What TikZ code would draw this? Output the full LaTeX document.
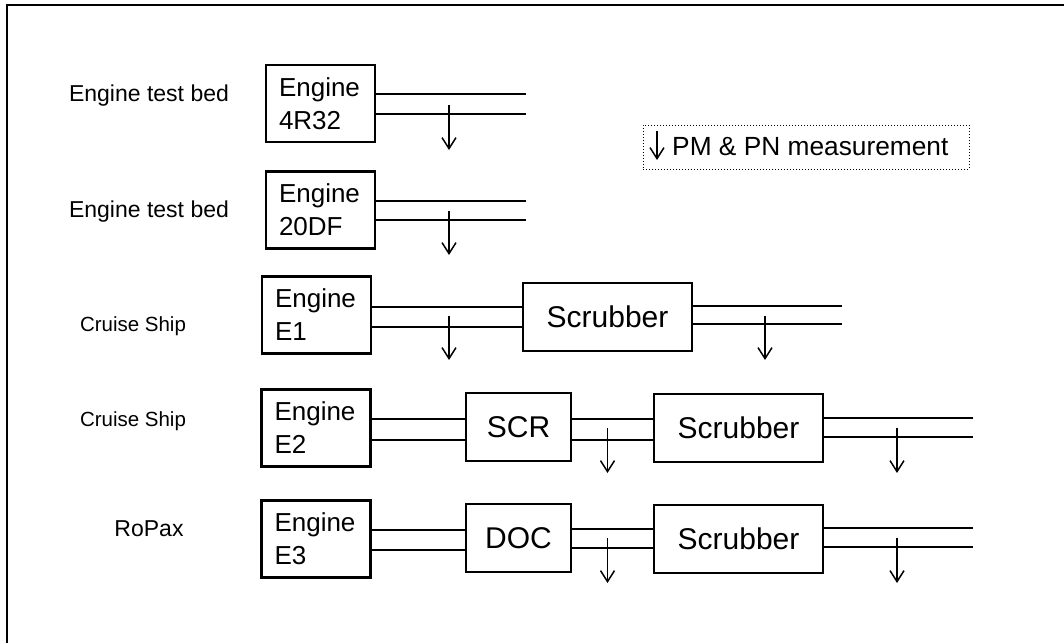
\documentclass[tikz,border=0pt]{standalone}
\usepackage{fontspec}
\setmainfont{Liberation Sans}
\usetikzlibrary{arrows.meta}
\tikzset{
  blk/.style={draw, line width=2.5pt, inner sep=0pt, minimum height=68pt, font=\fontsize{30}{36}\selectfont},
  eng/.style={draw, line width=2.5pt, inner xsep=13pt, inner ysep=0pt, text width=83pt, align=left,
              minimum height=77pt, font=\fontsize{26}{33}\selectfont},
  lbl/.style={font=\fontsize{23}{28}\selectfont, inner sep=0pt},
  slbl/.style={font=\fontsize{20.5}{25}\selectfont, inner sep=0pt},
  pipe/.style={line width=2.5pt},
  meas/.style={line width=1.5pt, -{Straight Barb[length=11pt,width=14pt,line width=1.5pt]}},
  frame/.style={line width=1.5pt}
}
\begin{document}
\begin{tikzpicture}[x=1pt,y=-1pt]
\useasboundingbox (0,0) rectangle (1064,643);
% outer frame
\coordinate (ftl) at (7,5);
\coordinate (ftr) at (1064,5);
\coordinate (fbl) at (7,643);
\draw[frame] (fbl) -- (ftl) -- (ftr);

% labels
\node[lbl] (l1) at (149,96) {Engine test bed};
\node[lbl] (l2) at (149,212) {Engine test bed};
\node[slbl] (l3) at (133,326) {Cruise Ship};
\node[slbl] (l4) at (133,421) {Cruise Ship};
\node[lbl] (l5) at (149,529) {RoPax};

% row 1
\node[eng] (e1) at (320.5,103.5) {Engine\\4R32};
\coordinate (u1) at (526,94);
\coordinate (d1) at (526,114);
\draw[pipe] (e1.east |- u1) -- (u1);
\draw[pipe] (e1.east |- d1) -- (d1);
\coordinate (a1) at (449,105);
\draw[meas] (a1) -- ++(0,45);

% row 2
\node[eng] (e2) at (320.5,210) {Engine\\20DF};
\coordinate (u2) at (526,201);
\coordinate (d2) at (526,220);
\draw[pipe] (e2.east |- u2) -- (u2);
\draw[pipe] (e2.east |- d2) -- (d2);
\coordinate (a2) at (449,211);
\draw[meas] (a2) -- ++(0,44);

% row 3
\node[eng] (e3) at (316.5,315) {Engine\\E1};
\node[blk, minimum width=169pt] (s3) at (607.5,317) {Scrubber};
\coordinate (u3) at (842,306);
\coordinate (d3) at (842,324);
\draw[pipe] (e3.east |- 0,307) -- (s3.west |- 0,307);
\draw[pipe] (e3.east |- 0,327) -- (s3.west |- 0,327);
\draw[pipe] (s3.east |- u3) -- (u3);
\draw[pipe] (s3.east |- d3) -- (d3);
\coordinate (a3) at (449,316);
\draw[meas] (a3) -- ++(0,44);
\coordinate (b3) at (765,316);
\draw[meas] (b3) -- ++(0,44);

% row 4
\node[eng] (e4) at (316,428) {Engine\\E2};
\node[blk, minimum width=105pt] (c4) at (518.5,427) {SCR};
\node[blk, minimum width=169pt] (s4) at (738.5,428) {Scrubber};
\coordinate (u4) at (973,418);
\coordinate (d4) at (973,437);
\draw[pipe] (e4.east |- 0,419) -- (c4.west |- 0,419);
\draw[pipe] (e4.east |- 0,440) -- (c4.west |- 0,440);
\draw[pipe] (c4.east |- 0,419) -- (s4.west |- 0,419);
\draw[pipe] (c4.east |- 0,440) -- (s4.west |- 0,440);
\draw[pipe] (s4.east |- u4) -- (u4);
\draw[pipe] (s4.east |- d4) -- (d4);
\coordinate (a4) at (607.5,428);
\draw[meas] (a4) -- ++(0,45);
\coordinate (b4) at (897,428);
\draw[meas] (b4) -- ++(0,45);

% row 5
\node[eng] (e5) at (316,539) {Engine\\E3};
\node[blk, minimum width=105pt] (c5) at (518.5,538) {DOC};
\node[blk, minimum width=169pt] (s5) at (738.5,539) {Scrubber};
\coordinate (u5) at (973,528);
\coordinate (d5) at (973,547);
\draw[pipe] (e5.east |- 0,530) -- (c5.west |- 0,530);
\draw[pipe] (e5.east |- 0,550) -- (c5.west |- 0,550);
\draw[pipe] (c5.east |- 0,529) -- (s5.west |- 0,529);
\draw[pipe] (c5.east |- 0,548) -- (s5.west |- 0,548);
\draw[pipe] (s5.east |- u5) -- (u5);
\draw[pipe] (s5.east |- d5) -- (d5);
\coordinate (a5) at (607.5,538);
\draw[meas] (a5) -- ++(0,45);
\coordinate (b5) at (897,538);
\draw[meas] (b5) -- ++(0,45);

% legend
\node[draw, dotted, line width=1pt, minimum width=326pt, minimum height=44pt, inner sep=0pt] (leg) at (806,147) {};
\node[font=\fontsize{26.3}{31}\selectfont, inner sep=0pt, anchor=west] (legt) at (672,147) {PM \& PN measurement};
\coordinate (la) at (657,131);
\draw[meas] (la) -- ++(0,29);
\end{tikzpicture}
\end{document}
